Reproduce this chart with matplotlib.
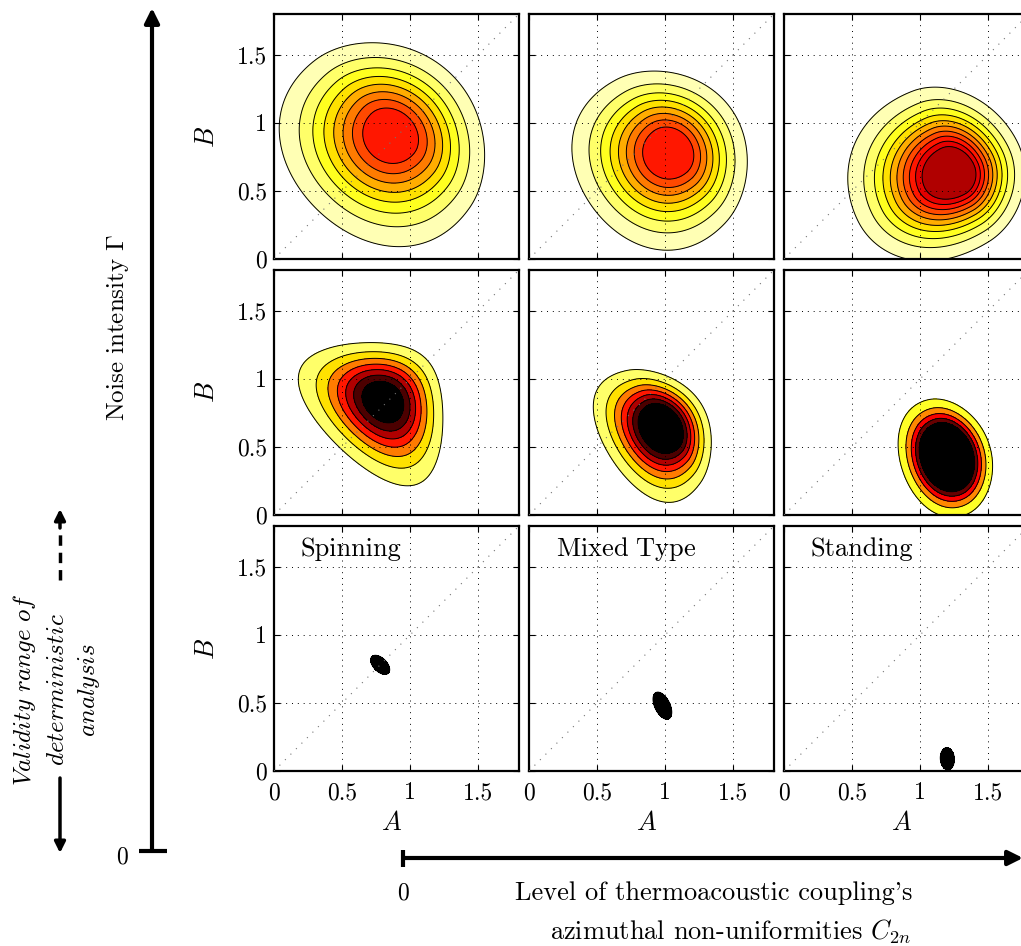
import numpy as np
import matplotlib
matplotlib.use("Agg")
import matplotlib.pyplot as plt

plt.rcParams['font.family'] = 'serif'
plt.rcParams['font.serif'] = ['cmr10']
plt.rcParams['mathtext.fontset'] = 'cm'
plt.rcParams['axes.unicode_minus'] = False

# regimes (columns) and noise levels (rows)
regimes = ["Spinning", r"$\mathrm{Mixed\ Type}$", "Standing"]

# peak location of the stationary pdf P(A, B)
centre_A = [[0.87, 1.04, 1.25],
            [0.81, 0.99, 1.21],
            [0.78, 0.98, 1.20]]
centre_B = [[0.92, 0.79, 0.63],
            [0.84, 0.65, 0.43],
            [0.78, 0.48, 0.09]]
# spread towards / away from the origin and across (upper and lower side)
sigma_in = [[0.37, 0.33, 0.35],
            [0.23, 0.21, 0.16],
            [0.023, 0.026, 0.024]]
sigma_out = [[0.29, 0.255, 0.23],
             [0.21, 0.15, 0.14],
             [0.023, 0.026, 0.024]]
sigma_t = [[0.37, 0.31, 0.30],
           [0.27, 0.23, 0.20],
           [0.040, 0.050, 0.038]]
sigma_t_low = [[0.37, 0.31, 0.25],
               [0.27, 0.23, 0.20],
               [0.040, 0.050, 0.038]]
widen = [[0.2, 0.25, 0.15],
         [1.0, 0.8, 0.3],
         [0.0, 0.0, 0.0]]
# pdf peak, contour spacing and number of contours (colour limit = 1)
pdf_peak = [[0.71, 0.73, 0.95],
            [1.27, 1.49, 2.5],
            [30.0, 30.0, 30.0]]
level_step = [[0.075, 0.075, 0.075],
              [0.15, 0.15, 0.215],
              [3.0, 3.0, 3.0]]
n_levels = [[8, 8, 10],
            [7, 7, 5],
            [9, 9, 9]]

ticks = [0, 0.5, 1, 1.5]
tick_labels = ["0", "0.5", "1", "1.5"]

W, H = 1021, 946
col_x = [274, 529, 784]
row_y = [14, 270, 526]
size = 245


def pdf(A, B, i, j):
    a0, b0 = centre_A[i][j], centre_B[i][j]
    phi = np.arctan2(b0, a0)
    dA, dB = A - a0, B - b0
    u = dA * np.cos(phi) + dB * np.sin(phi)
    v = -dA * np.sin(phi) + dB * np.cos(phi)
    su = np.where(u < 0, sigma_in[i][j], sigma_out[i][j])
    sv = np.where(v > 0, sigma_t[i][j], sigma_t_low[i][j]) * np.exp(-widen[i][j] * u)
    return pdf_peak[i][j] * np.exp(-0.5 * (u / su) ** 2 - 0.5 * (v / sv) ** 2)


fig = plt.figure(figsize=(W / 100, H / 100), dpi=100)
cmap = plt.get_cmap('hot_r')

g = np.linspace(0, 1.8, 500)
AA, BB = np.meshgrid(g, g)

for i in range(3):
    for j in range(3):
        ax = fig.add_axes([col_x[j] / W, 1 - (row_y[i] + size) / H,
                           size / W, size / H])
        Z = pdf(AA, BB, i, j)
        levels = level_step[i][j] * np.arange(1, n_levels[i][j] + 1)
        levels = levels[levels < Z.max()]
        # above the colour limit everything is black
        fill_colors = [cmap(l) if l < 1 else 'k' for l in levels]
        ax.contourf(AA, BB, Z, levels=np.append(levels, Z.max() + 1),
                    colors=fill_colors, zorder=1)
        ax.contour(AA, BB, Z, levels=levels, colors='k', linewidths=0.7, zorder=2)

        ax.plot([0, 1.8], [0, 1.8], color='0.45', lw=0.8,
                linestyle=(0, (1, 6)), zorder=3)
        ax.set_xlim(0, 1.8)
        ax.set_ylim(0, 1.8)
        ax.set_xticks(ticks)
        ax.set_yticks(ticks)
        ax.grid(True, color='k', lw=0.7, linestyle=(0, (1, 5)))
        ax.set_axisbelow(False)
        ax.tick_params(direction='in', length=4, width=0.8, labelsize=17,
                       top=True, right=True)
        ax.tick_params(axis='x', pad=8)
        ax.tick_params(axis='y', pad=5)
        for s in ax.spines.values():
            s.set_linewidth(1.6)

        if j == 0:
            ax.set_yticklabels(tick_labels)
            ax.text(-0.273, 0.5, '$B$', transform=ax.transAxes, fontsize=19,
                    rotation=90, ha='center', va='center')
        else:
            ax.set_yticklabels([])
        if i == 2:
            ax.set_xticklabels(tick_labels)
            ax.text(0.48, -0.213, '$A$', transform=ax.transAxes, fontsize=19,
                    ha='center', va='center')
            ax.text(0.11, 0.905, regimes[j], transform=ax.transAxes,
                    fontsize=19, ha='left', va='center')
        else:
            ax.set_xticklabels([])

# annotation layer in pixel coordinates
ov = fig.add_axes([0, 0, 1, 1], zorder=-1)
ov.set_xlim(0, W)
ov.set_ylim(H, 0)
ov.axis('off')

# noise intensity axis
ov.annotate('', xy=(152, 8), xytext=(152, 851), annotation_clip=False,
            arrowprops=dict(arrowstyle='-|>', lw=3, color='k',
                            mutation_scale=22, shrinkA=0, shrinkB=0))
ov.plot([139, 167], [851, 851], color='k', lw=3, solid_capstyle='butt')
ov.text(122, 857, '0', fontsize=17, ha='center', va='center')
ov.text(118, 327, r'Noise intensity $\Gamma$', fontsize=18, rotation=90,
        ha='center', va='center')

# coupling axis
ov.annotate('', xy=(1023, 858), xytext=(403, 858), annotation_clip=False,
            arrowprops=dict(arrowstyle='-|>', lw=3, color='k',
                            mutation_scale=22, shrinkA=0, shrinkB=0))
ov.plot([403, 403], [850, 867], color='k', lw=3, solid_capstyle='butt')
ov.text(403, 893, '0', fontsize=17, ha='center', va='center')
ov.text(714, 893, "Level of thermoacoustic coupling's", fontsize=19,
        ha='center', va='center')
ov.text(730, 932, r'azimuthal non-uniformities $C_{2n}$', fontsize=19,
        ha='center', va='center')

# validity range of the deterministic analysis
ov.plot([60, 60], [580, 530], color='k', lw=2.5, linestyle=(0, (3, 2)))
ov.annotate('', xy=(60, 509), xytext=(60, 528), annotation_clip=False,
            arrowprops=dict(arrowstyle='-|>', lw=2.5, color='k',
                            mutation_scale=16, shrinkA=0, shrinkB=0))
ov.annotate('', xy=(60, 853), xytext=(60, 778), annotation_clip=False,
            arrowprops=dict(arrowstyle='-|>', lw=2.5, color='k',
                            mutation_scale=16, shrinkA=0, shrinkB=0))
ov.text(25, 690, r'$\mathit{Validity\ range\ of}$', fontsize=18, rotation=90,
        ha='center', va='center')
ov.text(58, 690, r'$\mathit{deterministic}$', fontsize=18, rotation=90,
        ha='center', va='center')
ov.text(89, 690, r'$\mathit{analysis}$', fontsize=18, rotation=90,
        ha='center', va='center')

fig.savefig('out.png', dpi=100)
